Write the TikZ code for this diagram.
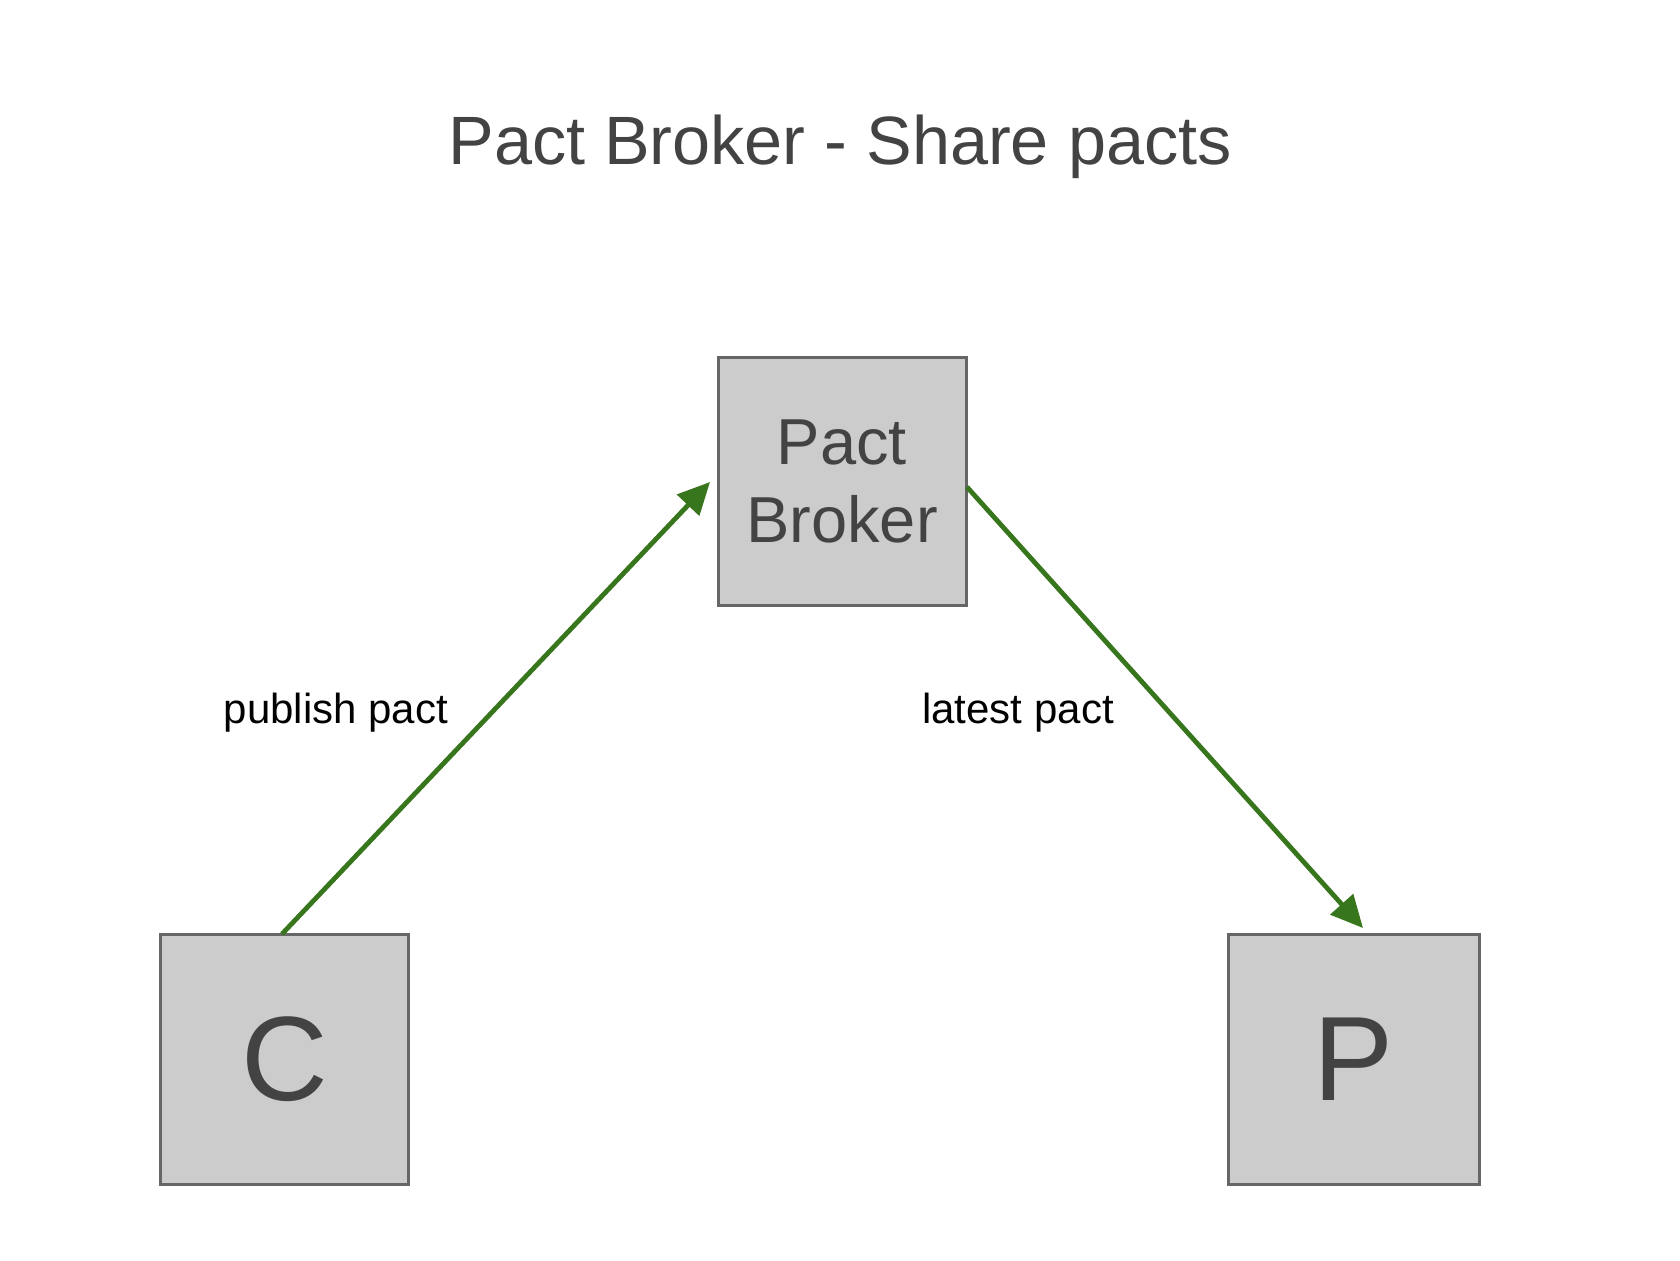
\documentclass[tikz,border=0pt]{standalone}
\usepackage{fontspec}
\setmainfont{Liberation Sans}
\usetikzlibrary{arrows.meta}
\definecolor{txtgray}{HTML}{434343}
\definecolor{boxfill}{HTML}{CCCCCC}
\definecolor{boxline}{HTML}{666666}
\definecolor{arrgreen}{HTML}{38761D}
\tikzset{
  box/.style={draw=boxline, fill=boxfill, line width=1.5pt, inner sep=0pt, text=txtgray},
  arr/.style={draw=arrgreen, line width=2.4pt, -{Triangle[length=16pt,width=15pt]}},
  lbl/.style={anchor=base, inner sep=0pt, font=\fontsize{21}{25}\selectfont, text=black}
}
\begin{document}
\begin{tikzpicture}[x=0.5pt,y=-0.5pt]
\useasboundingbox (0,0) rectangle (1680,1260);
\node[anchor=base, inner sep=0pt, text=txtgray, font=\fontsize{34.2}{40}\selectfont] (title) at (840,164) {Pact Broker - Share pacts};
\node[box, minimum width=124pt, minimum height=124pt, align=center, font=\fontsize{32.5}{39}\selectfont] (B) at (842,481) {Pact\\Broker};
\node[box, minimum width=124pt, minimum height=125pt, font=\fontsize{60}{70}\selectfont] (C) at (284.5,1059) {C};
\node[box, minimum width=125.5pt, minimum height=125pt, font=\fontsize{60}{70}\selectfont] (P) at (1353.5,1059) {P};
\coordinate (s1) at (282,934);
\coordinate (t1) at (710,482);
\coordinate (s2) at (967,487);
\coordinate (t2) at (1363,928);
\draw[arr] (s1) -- (t1);
\draw[arr] (s2) -- (t2);
\node[lbl] (l1) at (336,723) {publish pact};
\node[lbl] (l2) at (1018,723) {latest pact};
\end{tikzpicture}
\end{document}
